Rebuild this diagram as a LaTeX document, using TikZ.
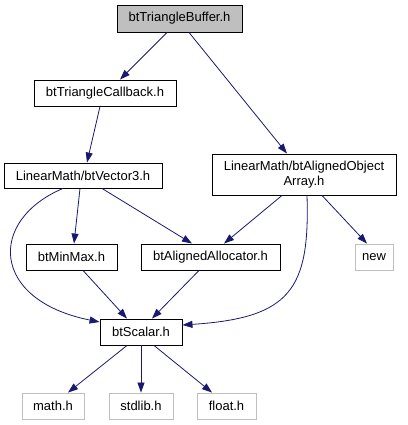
\documentclass[tikz,border=0pt]{standalone}
\usepackage{fontspec}
\setmainfont{Liberation Sans}
\usepackage{tikz}
\usepackage{color}
\usetikzlibrary{arrows.meta}
\definecolor{edgeblue}{RGB}{25,25,112}
\definecolor{boxgray}{RGB}{191,191,191}

\begin{document}
\begin{tikzpicture}[x=1pt,y=-1pt,
  file/.style={draw=black, line width=0.9pt, minimum height=26pt, inner sep=0pt, font=\fontsize{13}{15}\selectfont},
  sysfile/.style={file, draw=boxgray},
  inc/.style={edgeblue, line width=0.8pt, -{Triangle[length=10pt,width=7pt]}}]
\useasboundingbox (0,0) rectangle (407,425);

\node[file, fill=boxgray, minimum width=125pt, minimum height=27pt] (buf) at (179.5,18.5) {btTriangleBuffer.h};
\node[file, minimum width=142pt] (cb) at (105,93) {btTriangleCallback.h};
\node[file, minimum width=158pt, minimum height=25pt] (vec) at (83,175.5) {LinearMath/btVector3.h};
\node[file, minimum width=184pt, minimum height=41pt, align=center] (arr) at (304,174.5) {LinearMath/btAlignedObject\\Array.h};
\node[file, minimum width=91pt] (mm) at (71.5,257) {btMinMax.h};
\node[file, minimum width=139pt] (alloc) at (210.5,257) {btAlignedAllocator.h};
\node[sysfile, minimum width=38pt] (new) at (374,257) {new};
\node[file, minimum width=82pt] (sc) at (141,332) {btScalar.h};
\node[sysfile, minimum width=62pt] (math) at (53,406) {math.h};
\node[sysfile, minimum width=64pt] (std) at (141,406) {stdlib.h};
\node[sysfile, minimum width=59pt] (flt) at (226.5,406) {float.h};

\draw[inc] ([xshift=-12.5pt]buf.south) -- ([xshift=15pt]cb.north);
\draw[inc] ([xshift=9.5pt]buf.south) -- ([xshift=-17pt]arr.north);
\draw[inc] ([xshift=-5pt]cb.south) -- ([xshift=4pt]vec.north);
\draw[inc] ([xshift=-3pt]vec.south) -- ([xshift=2.5pt]mm.north);
\draw[inc] ([xshift=19pt]vec.south) -- ([xshift=-18.5pt]alloc.north);
\draw[inc] ([xshift=-20pt]vec.south) .. controls (-12,220) and (-10,300) .. ([yshift=10pt]sc.west);
\draw[inc] ([xshift=-22pt]arr.south) -- ([xshift=13.5pt]alloc.north);
\draw[inc] ([xshift=3pt]arr.south) .. controls (310,290) and (290,318) .. ([yshift=7pt]sc.east);
\draw[inc] ([xshift=18pt]arr.south) -- ([xshift=-7pt]new.north);
\draw[inc] ([xshift=11.5pt]mm.south) -- ([xshift=-14pt]sc.north);
\draw[inc] ([xshift=-11.5pt]alloc.south) -- ([xshift=11pt]sc.north);
\draw[inc] ([xshift=-14pt]sc.south) -- ([xshift=15pt]math.north);
\draw[inc] (sc.south) -- (std.north);
\draw[inc] ([xshift=13pt]sc.south) -- ([xshift=-14.5pt]flt.north);
\end{tikzpicture}
\end{document}
